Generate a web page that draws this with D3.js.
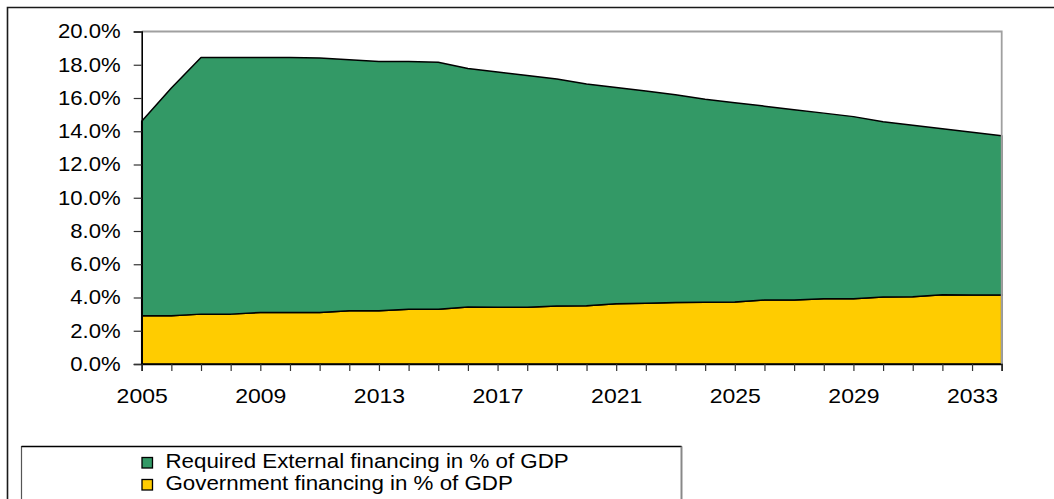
<!DOCTYPE html>
<html>
<head>
<meta charset="utf-8">
<script src="https://cdn.jsdelivr.net/npm/d3@7/dist/d3.min.js"></script>
<style>
  html, body { margin: 0; padding: 0; background: #fff; }
  svg { display: block; }
  text { font-family: "Liberation Sans", Arial, sans-serif; fill: #000; }
  .stretch { transform-box: fill-box; }
</style>
</head>
<body>
<svg id="chart" width="1054" height="499"></svg>
<script>
// Financing needs, % of GDP
const years = [2005, 2006, 2007, 2008, 2009, 2010, 2011, 2012, 2013, 2014,
               2015, 2016, 2017, 2018, 2019, 2020, 2021, 2022, 2023, 2024,
               2025, 2026, 2027, 2028, 2029, 2030, 2031, 2032, 2033, 2034];
const governmentFinancing = [2.9, 2.9, 3.0, 3.0, 3.1, 3.1, 3.1, 3.2, 3.2, 3.3,
                             3.3, 3.43, 3.41, 3.41, 3.49, 3.5, 3.62, 3.65, 3.7, 3.72,
                             3.73, 3.85, 3.85, 3.93, 3.93, 4.03, 4.05, 4.16, 4.15, 4.15];
const externalFinancing = [11.7, 13.7, 15.43, 15.43, 15.33, 15.33, 15.3, 15.1, 15.0, 14.9,
                           14.85, 14.35, 14.15, 13.94, 13.65, 13.34, 13.01, 12.77, 12.5, 12.21,
                           11.99, 11.66, 11.45, 11.16, 10.95, 10.54, 10.31, 9.99, 9.79, 9.58];
const yTicks = [0, 2, 4, 6, 8, 10, 12, 14, 16, 18, 20];
const seriesNames = ["Required External financing in % of GDP", "Government financing in % of GDP"];
const seriesColors = ["#339966", "#FFCC00"];

const rows = years.map((yr, i) => ({ year: yr, gov: governmentFinancing[i], ext: externalFinancing[i] }));

const svg = d3.select("#chart");
const plot = { left: 141.7, right: 1001.7, top: 31.5, bottom: 364 };

const x = d3.scalePoint().domain(years).range([plot.left, plot.right]);
const y = d3.scaleLinear().domain([0, 20]).range([plot.bottom, plot.top]);

// outer frame (top and left edges)
svg.append("path")
  .attr("d", `M7.5,499 V7.5 H1054`)
  .attr("fill", "none").attr("stroke", "#1a1a1a").attr("stroke-width", 1.6);

// stacked areas: government at the bottom, external on top
const stacked = d3.stack().keys(["gov", "ext"])(rows);
const area = d3.area()
  .x(d => x(d.data.year))
  .y0(d => y(d[0]))
  .y1(d => y(d[1]));

svg.append("g").selectAll("path")
  .data(stacked)
  .join("path")
  .attr("d", area)
  .attr("fill", (d, i) => i === 0 ? seriesColors[1] : seriesColors[0])
  .attr("stroke", "#000")
  .attr("stroke-width", 1.5)
  .attr("stroke-linejoin", "round");

// plot border (top and right)
svg.append("path")
  .attr("d", `M${plot.left},${plot.top} H${plot.right} V${plot.bottom}`)
  .attr("fill", "none").attr("stroke", "#a0a0a0").attr("stroke-width", 1.8);

// y axis
const yAxis = svg.append("g")
  .attr("transform", `translate(${plot.left},0)`)
  .call(d3.axisLeft(y).tickValues(yTicks).tickSize(8).tickPadding(13)
        .tickFormat(v => d3.format(".1%")(v / 100)));
yAxis.select(".domain").attr("stroke", "#000").attr("stroke-width", 1.6);
yAxis.selectAll(".tick line").attr("stroke", "#333").attr("stroke-width", 1.2);
yAxis.selectAll(".tick text")
  .attr("font-size", 19.5)
  .attr("class", "stretch")
  .style("transform-origin", "right center")
  .style("transform", "scaleX(1.135)");

// x axis
const xAxis = svg.append("g")
  .attr("transform", `translate(0,${plot.bottom})`)
  .call(d3.axisBottom(x).tickValues(years).tickSize(7).tickPadding(18)
        .tickFormat((d, i) => i % 4 === 0 ? String(d) : ""));
xAxis.select(".domain").attr("stroke", "#000").attr("stroke-width", 1.6);
xAxis.selectAll(".tick line").attr("stroke", "#333").attr("stroke-width", 1.2);
xAxis.selectAll(".tick text")
  .attr("font-size", 20)
  .attr("class", "stretch")
  .style("transform-origin", "center center")
  .style("transform", "scaleX(1.15)");

// legend
const legend = svg.append("g");
legend.append("path")
  .attr("d", "M21.5,499 V446.5 H681.5 V499")
  .attr("fill", "#fff").attr("stroke", "#555").attr("stroke-width", 1.2);
legend.append("path")
  .attr("d", "M21.5,446.5 H681.5")
  .attr("stroke", "#000").attr("stroke-width", 1.4);
legend.append("path")
  .attr("d", "M681.5,446.5 V499")
  .attr("stroke", "#888").attr("stroke-width", 1.8);

const items = legend.selectAll("g.item")
  .data(seriesNames)
  .join("g")
  .attr("class", "item")
  .attr("transform", (d, i) => `translate(142,${457.5 + i * 22})`);
items.append("rect")
  .attr("width", 10.5).attr("height", 10.5)
  .attr("fill", (d, i) => seriesColors[i])
  .attr("stroke", "#000").attr("stroke-width", 1.3);
items.append("text")
  .attr("x", 23.5).attr("y", 10.5)
  .attr("font-size", 19.5)
  .attr("class", "stretch")
  .style("transform-origin", "left center")
  .style("transform", "scaleX(1.145)")
  .text(d => d);
</script>
</body>
</html>
